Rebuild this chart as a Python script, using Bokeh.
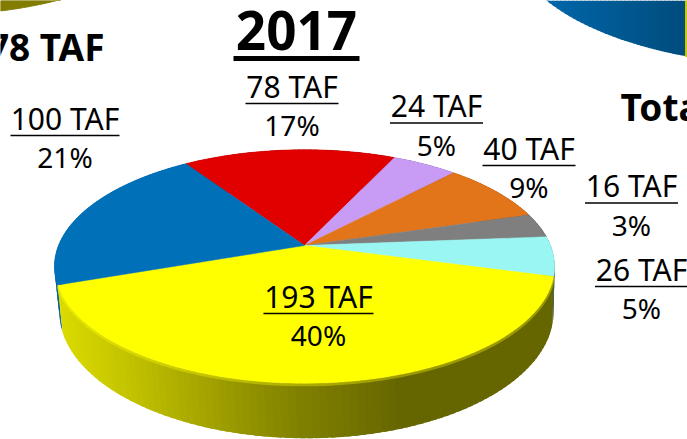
import numpy as np
from bokeh.core.properties import value
from bokeh.embed import file_html
from bokeh.models import Range1d
from bokeh.plotting import figure
from bokeh.resources import INLINE

# --- chart values ---
title = "2017"
categories = ["Red", "Lilac", "Orange", "Gray", "Cyan", "Yellow", "Blue"]
taf_values = [78, 24, 40, 16, 26, 193, 100]
percent_labels = ["17%", "5%", "9%", "3%", "5%", "40%", "21%"]
colors = ["#e00000", "#c89bf5", "#e2751a", "#7f7f7f", "#99f6f3", "#ffff00", "#0070b8"]
side_left_text = "78 TAF"
side_right_text = "Total"

# --- layout (px in the page) ---
W, H = 687, 439
label_cx = [291.5, 436, 528.5, 631, 641, 318, 64.5]
label_mid = [85.5, 105, 147.5, 185, 268.5, 295.5, 117.5]
label_halfw = [46.5, 46.5, 46.5, 46.5, 46.5, 55, 54.5]
FONT = "Noto Sans"
start_deg = -33.7
k = 0.18
top = dict(cx=304, cy=245, A=246, B=113)
bot = dict(cx=306, cy=289, A=243, B=122)


def proj(theta_deg, cx, cy, A, B):
    t = np.radians(theta_deg)
    u, v = np.sin(t), np.cos(t)
    return cx + A * u / (1 + k * v), cy - B * v / (1 + k * v)


def shade(hex_color, x):
    f = float(np.interp(x, [60, 130, 230, 300, 400, 560], [0.86, 0.76, 0.6, 0.5, 0.4, 0.4]))
    r, g, b = (int(hex_color[i:i + 2], 16) for i in (1, 3, 5))
    return "#%02x%02x%02x" % (int(r * f), int(g * f), int(b * f))


p = figure(width=W, height=H, output_backend="svg", toolbar_location=None,
           x_range=Range1d(0, W), y_range=Range1d(H, 0), min_border=0)
p.axis.visible = False
p.grid.visible = False
p.outline_line_color = None
p.background_fill_color = "white"
p.border_fill_color = "white"

shares = np.array(taf_values, dtype=float) / sum(taf_values) * 360
edges = start_deg + np.concatenate([[0], np.cumsum(shares)])

# neighbouring pies, cut by the picture's edges
xs = np.linspace(0, 60, 30)
ys = -108 + 122 * np.sqrt(np.clip(1 - ((xs + 60) / 250) ** 2, 0, 1))
p.patch(np.r_[xs, 60, 0], np.r_[ys, 0, 0], color="#827c00")
xs = np.arange(540, 686, 4.0)
for a, b in zip(xs[:-1], xs[1:]):
    ya = -62 + 127 * np.sqrt(np.clip(1 - ((a - 790) / 280) ** 2, 0, 1))
    yb = -62 + 127 * np.sqrt(np.clip(1 - ((b - 790) / 280) ** 2, 0, 1))
    f = float(np.interp(a, [540, 685], [0.93, 0.68]))
    c = "#%02x%02x%02x" % (0, int(0x70 * f), int(0xb8 * f))
    p.patch([a, b + 1, b + 1, a], [min(ya, 0), min(yb, 0), yb, ya], fill_color=c, line_color=None)
p.quad(left=685, right=687, top=0, bottom=56, color="#c8c800")

# rim: draw the slices' sides, the front slice last; each strip overlaps the next
order = [0, 1, 2, 3, 6, 4, 5]
for i in order:
    a0, a1 = edges[i], edges[i + 1]
    n = max(2, int((a1 - a0) / 1.5))
    ts = np.linspace(a0, a1, n + 1)
    for t0, t1 in zip(ts[:-1], ts[1:]):
        t2 = min(t1 + 1.0, a1)
        x0, y0 = proj(t0, **top)
        x1, y1 = proj(t2, **top)
        x2, y2 = proj(t2, **bot)
        x3, y3 = proj(t0, **bot)
        c = shade(colors[i], (x0 + x1 + x2 + x3) / 4)
        p.patch([x0, x1, x2, x3], [y0, y1, y2, y3], fill_color=c, line_color=None)

# soft bevel where the front slice turns over into its rim
ts = np.linspace(edges[5] - 0, edges[6], 120)
ax, ay = proj(ts, **top)
p.line(ax, ay + 1.5, line_color="#ffff00", line_width=3, line_alpha=0.35)

# top faces
for i in range(len(taf_values)):
    ts = np.linspace(edges[i], edges[i + 1], 60)
    ax, ay = proj(ts, **top)
    p.patch(np.r_[top["cx"], ax], np.r_[top["cy"], ay], fill_color=colors[i], line_color=colors[i], line_width=0.5)

# labels
for i, (val, pct) in enumerate(zip(taf_values, percent_labels)):
    cx, mid, hw = label_cx[i], label_mid[i], label_halfw[i]
    p.text([cx], [mid], text=[f"{val} TAF"], text_font=value(FONT), text_font_size="30px",
           text_align="center", text_baseline="middle", text_color="#000000")
    p.segment([cx - hw], [mid + 17.5], [cx + hw], [mid + 17.5], line_color="#000000", line_width=1.6)
    p.text([cx], [mid + 39], text=[pct], text_font=value(FONT), text_font_size="28px",
           text_align="center", text_baseline="middle", text_color="#000000")

p.text([296], [30], text=[title], text_font=value(FONT), text_font_style="bold", text_font_size="53px",
       text_align="center", text_baseline="middle", text_color="#000000")
p.segment([233], [58], [359], [58], line_color="#000000", line_width=5)
p.text([104], [46], text=[side_left_text], text_font=value(FONT), text_font_style="bold", text_font_size="37px",
       text_align="right", text_baseline="middle", text_color="#000000")
p.text([620], [106], text=[side_right_text], text_font=value(FONT), text_font_style="bold", text_font_size="37px",
       text_align="left", text_baseline="middle", text_color="#000000")

open("out.html", "w").write(file_html(p, INLINE))
